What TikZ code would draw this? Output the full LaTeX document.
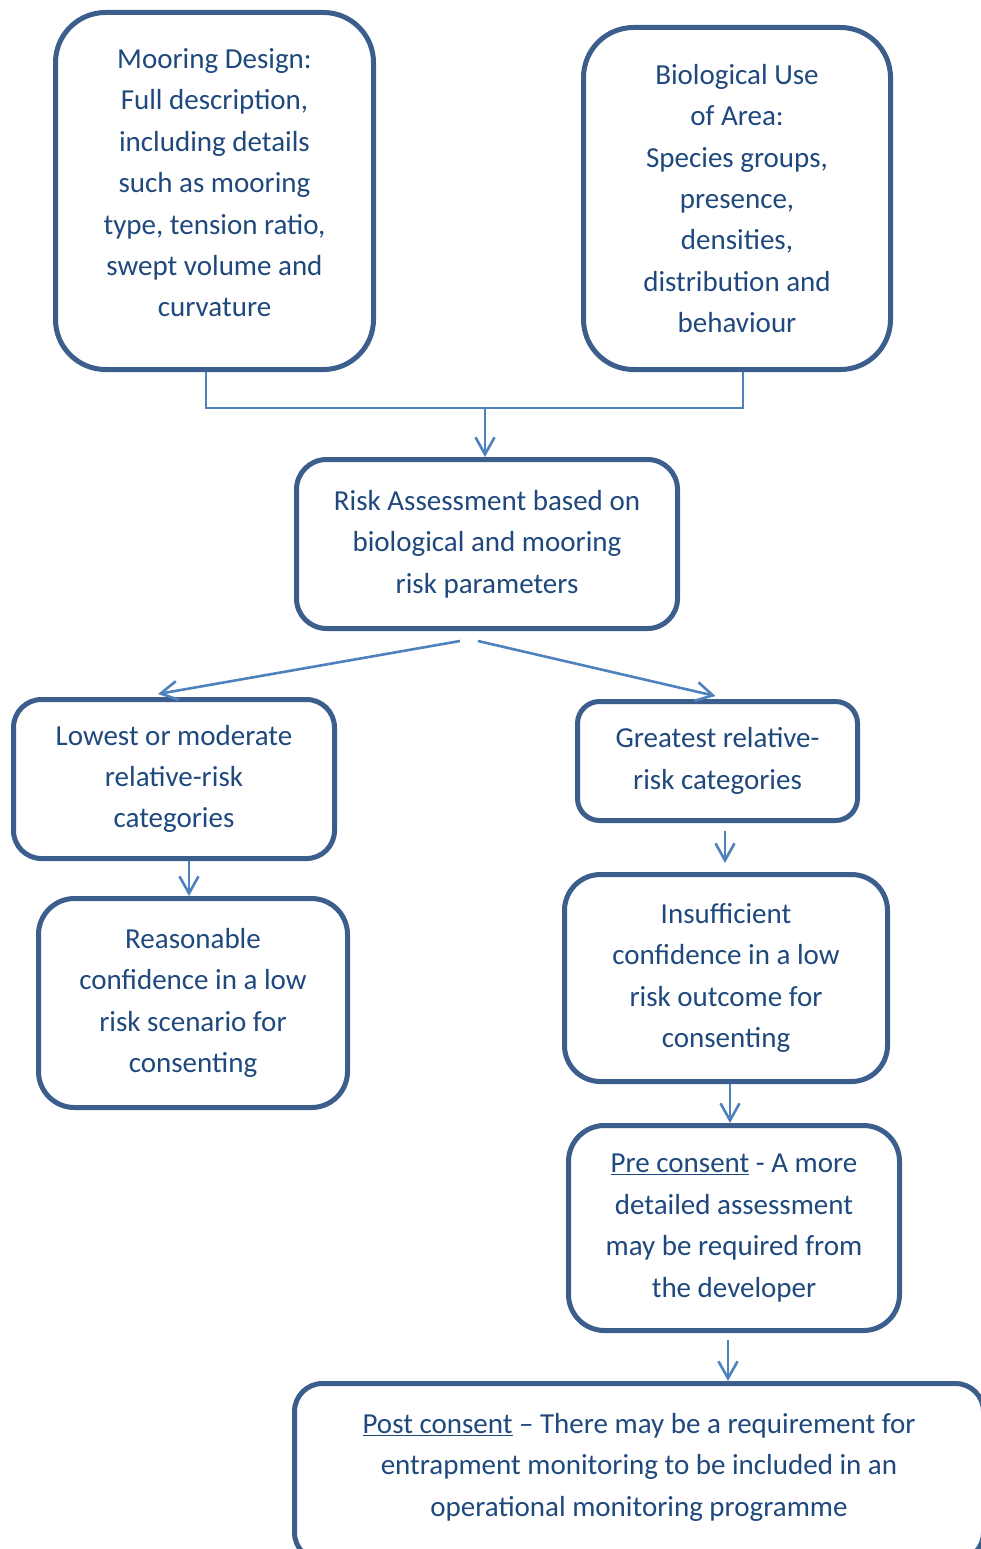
\documentclass[tikz,border=0pt]{standalone}
\usepackage{fontspec}
\setmainfont{Carlito}
\usetikzlibrary{arrows.meta,calc}
\definecolor{boxline}{HTML}{3B5E8C}
\definecolor{conn}{HTML}{4F81BD}
\definecolor{txt}{HTML}{1F497D}
\tikzset{
  fbox/.style={draw=boxline, line width=5pt, fill=white, align=center, text=txt,
    font={\fontsize{29}{41.4}\selectfont}, inner sep=0pt},
  arr/.style={draw=conn, line width=2.6pt, -{Straight Barb[length=17pt,width=19pt,line width=2.6pt]}},
  lnk/.style={draw=conn, line width=2.6pt}
}
\newcommand{\ul}[1]{\underline{#1}}
\begin{document}
\begin{tikzpicture}[x=1pt,y=-1pt]
\useasboundingbox (0,0) rectangle (981,1549);
\clip (0,0) rectangle (981,1549);
\node[fbox, minimum width=318, minimum height=357, rounded corners=50] (moor) at (214.5,191)
  {Mooring Design:\\Full description,\\including details\\such as mooring\\type, tension ratio,\\swept volume and\\curvature\\[-25pt]};
\node[fbox, minimum width=307, minimum height=342, rounded corners=50] (bio) at (737,198.5)
  {Biological Use\\of Area:\\Species groups,\\presence,\\densities,\\distribution and\\behaviour};
\node[fbox, minimum width=381, minimum height=169, rounded corners=30] (risk) at (487,544)
  {Risk Assessment based on\\biological and mooring\\risk parameters};
\node[fbox, minimum width=321, minimum height=159, rounded corners=28] (low) at (174,779)
  {Lowest or moderate\\relative-risk\\categories};
\node[fbox, minimum width=280, minimum height=119, rounded corners=22] (great) at (717.5,761)
  {Greatest relative-\\risk categories};
\node[fbox, minimum width=309, minimum height=209, rounded corners=36] (reas) at (193,1003)
  {Reasonable\\confidence in a low\\risk scenario for\\consenting};
\node[fbox, minimum width=323, minimum height=207, rounded corners=36] (ins) at (726,978)
  {Insufficient\\confidence in a low\\risk outcome for\\consenting};
\node[fbox, minimum width=331, minimum height=205, rounded corners=36] (pre) at (734,1228)
  {\ul{Pre consent} - A more\\detailed assessment\\may be required from\\the developer};
\node[fbox, minimum width=689, minimum height=177, rounded corners=28] (post) at (639,1472)
  {\ul{Post consent} -- There may be a requirement for\\entrapment monitoring to be included in an\\operational monitoring programme\\[-27pt]};
% connectors
\coordinate (j1) at (206,408);
\coordinate (j2) at (743,408);
\coordinate (jm) at (485,408);
\draw[lnk] (moor.south -| j1) -- (j1) -- (j2) -- (bio.south -| j2);
\draw[arr] (jm) -- (risk.north -| jm);
\coordinate (s1) at (460,641);
\coordinate (s2) at (478,641);
\draw[arr] (s1) -- ($(low.north)+(-16,-3)$);
\draw[arr] (s2) -- ($(great.north)+(-2,-3)$);
\coordinate (c1) at (189,862);
\draw[arr] (low.south -| c1) -- (reas.north -| c1);
\coordinate (c2a) at (725,831);
\coordinate (c2b) at (725,863);
\draw[arr] (c2a) -- (c2b);
\coordinate (c3) at (730,1084);
\draw[arr] (ins.south -| c3) -- (pre.north -| c3);
\coordinate (c4) at (728,1340);
\draw[arr] (c4) -- (post.north -| c4);
\end{tikzpicture}
\end{document}
